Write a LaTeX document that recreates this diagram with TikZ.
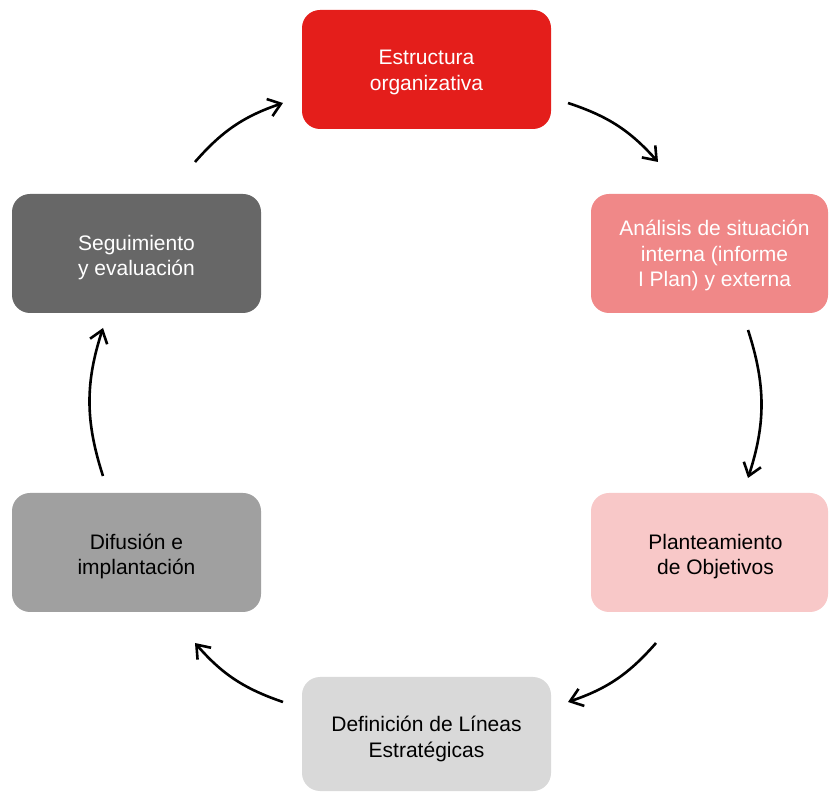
\documentclass[tikz,border=0pt]{standalone}
\usepackage{fontspec}
\setmainfont{Liberation Sans}
\usetikzlibrary{arrows.meta}
\definecolor{cRed}{RGB}{228,30,27}
\definecolor{cLRed}{RGB}{240,136,136}
\definecolor{cPink}{RGB}{248,200,200}
\definecolor{cLGrey}{RGB}{217,217,217}
\definecolor{cGrey}{RGB}{160,160,160}
\definecolor{cDGrey}{RGB}{103,103,103}
\begin{document}
\begin{tikzpicture}[x=1pt,y=1pt,
  box/.style={rounded corners=18pt, minimum width=249pt, minimum height=119pt, inner sep=0pt},
  lbl/.style={align=center, inner sep=0pt, font=\fontsize{21}{25.5}\selectfont},
  cyc/.style={line width=2.6pt, -{Straight Barb[length=12pt,width=18pt]}}]
\useasboundingbox (0,0) rectangle (829,792);
% boxes
\node[box, fill=cRed] (est) at (426.5,722.5) {};
\node[box, fill=cLRed, minimum width=237pt] (ana) at (709.5,538.5) {};
\node[box, fill=cPink, minimum width=237pt] (plan) at (709.5,239.5) {};
\node[box, fill=cLGrey, minimum height=114pt] (def) at (426.5,58) {};
\node[box, fill=cGrey] (dif) at (136.5,239.5) {};
\node[box, fill=cDGrey] (seg) at (136.5,538.5) {};
% labels
\node[lbl, text=white] (estT) at ([yshift=-3pt]est.center) {Estructura\\organizativa};
\node[lbl, text=white] (anaT) at ([xshift=5pt,yshift=-2pt]ana.center) {Análisis de situación\\interna (informe\\I Plan) y externa};
\node[lbl, text=black] (planT) at ([xshift=6pt,yshift=-4pt]plan.center) {Planteamiento\\de Objetivos};
\node[lbl, text=black] (defT) at ([yshift=-5pt]def.center) {Definición de Líneas\\Estratégicas};
\node[lbl, text=black] (difT) at ([yshift=-4pt]dif.center) {Difusión e\\implantación};
\node[lbl, text=white] (segT) at ([yshift=-4pt]seg.center) {Seguimiento\\y evaluación};
% arrow end points
\coordinate (a1s) at (568,689); \coordinate (a1e) at (658,630);
\coordinate (a2s) at (748,462); \coordinate (a2e) at (748,314);
\coordinate (a3s) at (656,149); \coordinate (a3e) at (568,90);
\coordinate (a4s) at (283,90);  \coordinate (a4e) at (195,149);
\coordinate (a5s) at (103,316); \coordinate (a5e) at (103,464);
\coordinate (a6s) at (195,630); \coordinate (a6e) at (283,689);
% arrows
\draw[cyc] (a1s) to[bend left=15] (a1e);
\draw[cyc] (a2s) to[bend left=18] (a2e);
\draw[cyc] (a3s) to[bend left=15] (a3e);
\draw[cyc] (a4s) to[bend left=15] (a4e);
\draw[cyc] (a5s) to[bend left=18] (a5e);
\draw[cyc] (a6s) to[bend left=15] (a6e);
\end{tikzpicture}
\end{document}
